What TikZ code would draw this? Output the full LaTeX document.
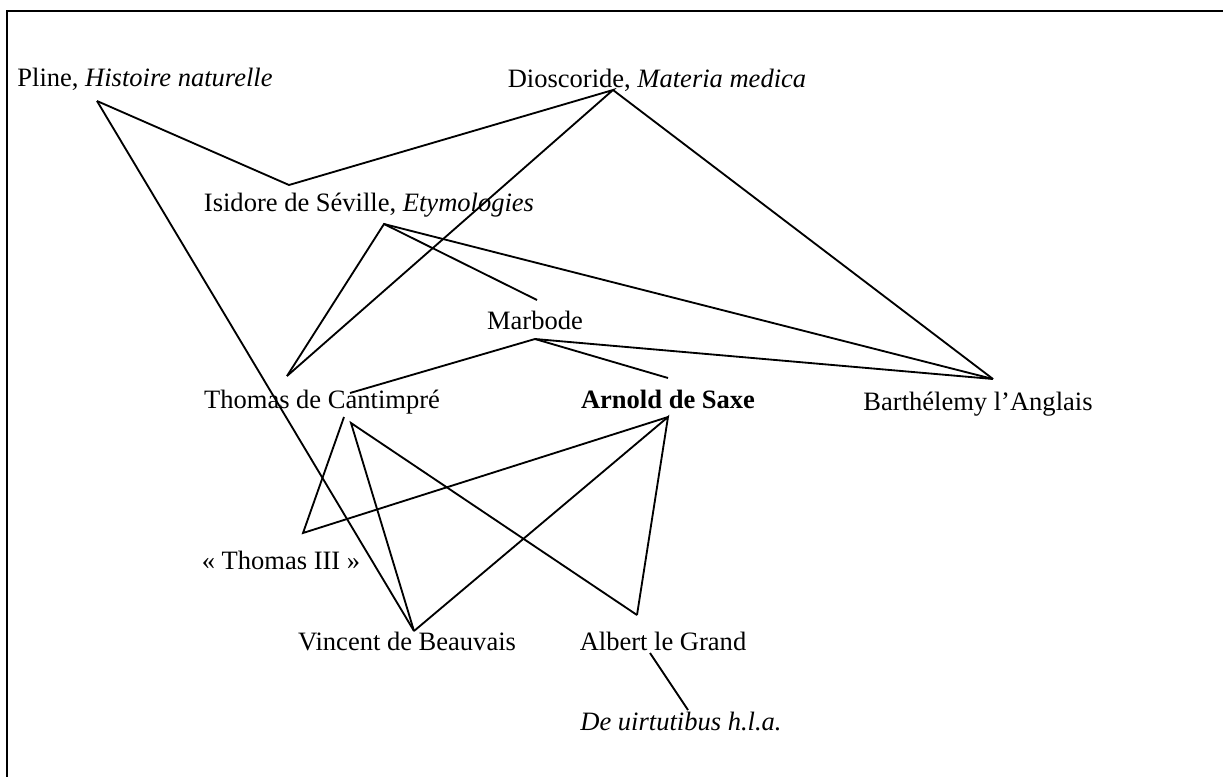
\documentclass[tikz,border=0pt]{standalone}
\usepackage{fontspec}
\setmainfont{Liberation Serif}
\usepackage{tikz}

\begin{document}
\begin{tikzpicture}
        [
            x = 0.02cm, y = -0.02cm,
            author/.style = {inner sep = 0pt, anchor = base, font = \fontsize{15.1}{17}\selectfont},
            link/.style = {line width = 1.05pt}
        ]

        \useasboundingbox (0,0) rectangle (1223,777);
        \draw [line width = 1.2pt] (7,777) -- (7,11) -- (1223,11);

        \node [author] (pline) at (145,87) {Pline, \textit{Histoire naturelle}};
        \node [author] (dioscoride) at (657,88) {Dioscoride, \textit{Materia medica}};
        \node [author] (isidore) at (369,211) {Isidore de Séville, \textit{Etymologies}};
        \node [author] (marbode) at (535,329) {Marbode};
        \node [author] (thomas) at (322,408) {Thomas de Cantimpré};
        \node [author] (arnold) at (668,408) {\textbf{Arnold de Saxe}};
        \node [author] (barthelemy) at (978,410) {Barthélemy l’Anglais};
        \node [author] (thomastrois) at (281,569) {«~Thomas III~»};
        \node [author] (vincent) at (407,650) {Vincent de Beauvais};
        \node [author] (albert) at (663,650) {Albert le Grand};
        \node [author] (uirtutibus) at (681,730) {\textit{De uirtutibus h.l.a.}};

        % sources anciennes
        \draw [link] ([shift={(-48,14)}]pline.base) -- ([shift={(-80,-26)}]isidore.base)
            -- ([shift={(-44,2)}]dioscoride.base) -- ([shift={(-35,-32)}]thomas.base);
        \draw [link] ([shift={(-44,2)}]dioscoride.base) -- ([shift={(15,-31)}]barthelemy.base);
        \draw [link] ([shift={(-48,14)}]pline.base) -- ([shift={(7,-19)}]vincent.base);

        % Isidore
        \draw [link] ([shift={(-35,-32)}]thomas.base) -- ([shift={(15,13)}]isidore.base)
            -- ([shift={(2,-29)}]marbode.base);
        \draw [link] ([shift={(15,13)}]isidore.base) -- ([shift={(15,-31)}]barthelemy.base);

        % Marbode
        \draw [link] ([shift={(28,-15)}]thomas.base) -- ([shift={(0,10)}]marbode.base)
            -- ([shift={(0,-30)}]arnold.base);
        \draw [link] ([shift={(0,10)}]marbode.base) -- ([shift={(15,-31)}]barthelemy.base);

        % Thomas de Cantimpre et Arnold de Saxe
        \draw [link] ([shift={(22,9)}]thomas.base) -- ([shift={(22,-36)}]thomastrois.base)
            -- ([shift={(0,9)}]arnold.base);
        \draw [link] ([shift={(7,-19)}]vincent.base) -- ([shift={(29,15)}]thomas.base)
            -- ([shift={(-26,-35)}]albert.base);
        \draw [link] ([shift={(7,-19)}]vincent.base) -- ([shift={(0,9)}]arnold.base)
            -- ([shift={(-26,-35)}]albert.base);

        % Albert
        \draw [link] ([shift={(-13,3)}]albert.base) -- ([shift={(7,-20)}]uirtutibus.base);
    \end{tikzpicture}
\end{document}
